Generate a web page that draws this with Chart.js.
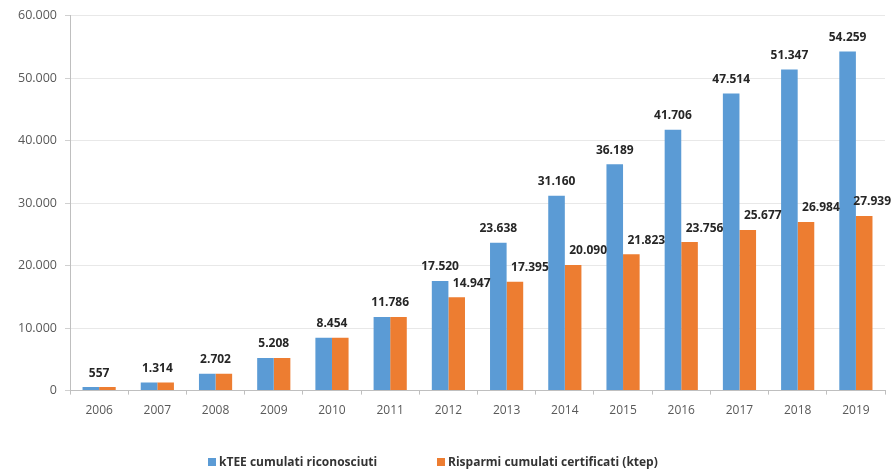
<!DOCTYPE html>
<html>
<head>
<meta charset="utf-8">
<script src="https://cdn.jsdelivr.net/npm/chart.js@4/dist/chart.umd.min.js"></script>
<style>
  html, body { margin: 0; padding: 0; background: #fff; }
  #wrap { position: relative; width: 892px; height: 475px; }
  #legend {
    position: absolute; left: 0; top: 453px; width: 892px; height: 18px;
    font: bold 12px 'Open Sans', sans-serif; color: #333;
  }
  .item { position: absolute; top: 0; line-height: 18px; white-space: nowrap; }
  .box { display: inline-block; width: 8px; height: 8px; margin-right: 3px; vertical-align: 0px; }
</style>
</head>
<body>
<div id="wrap">
  <canvas id="chart" width="892" height="475"></canvas>
  <div id="legend"></div>
</div>
<script>
// data
const years = ['2006','2007','2008','2009','2010','2011','2012','2013','2014','2015','2016','2017','2018','2019'];
const kteeCumulati = [557, 1314, 2702, 5208, 8454, 11786, 17520, 23638, 31160, 36189, 41706, 47514, 51347, 54259];
const risparmiCumulati = [557, 1314, 2702, 5208, 8454, 11786, 14947, 17395, 20090, 21823, 23756, 25677, 26984, 27939];
const seriesNames = ['kTEE cumulati riconosciuti', 'Risparmi cumulati certificati (ktep)'];
const yTicks = [0, 10000, 20000, 30000, 40000, 50000, 60000];

const BLUE = '#5b9bd5';
const ORANGE = '#ed7d31';

function fmt(v) {
  return String(v).replace(/\B(?=(\d{3})+(?!\d))/g, '.');
}

// value labels: one centered label when both values match, otherwise one per bar
const valueLabels = {
  id: 'valueLabels',
  afterDatasetsDraw(chart) {
    const ctx = chart.ctx;
    const m0 = chart.getDatasetMeta(0);
    const m1 = chart.getDatasetMeta(1);
    ctx.save();
    ctx.font = "bold 12px 'Open Sans', sans-serif";
    ctx.fillStyle = '#262626';
    ctx.textAlign = 'center';
    ctx.textBaseline = 'middle';
    years.forEach((y, i) => {
      const a = m0.data[i], b = m1.data[i];
      if (kteeCumulati[i] === risparmiCumulati[i]) {
        ctx.fillText(fmt(kteeCumulati[i]), (a.x + b.x) / 2, Math.min(a.y, b.y) - 14);
      } else {
        ctx.fillText(fmt(kteeCumulati[i]), a.x, a.y - 14);
        const txt = fmt(risparmiCumulati[i]);
        const half = ctx.measureText(txt).width / 2;
        const x = Math.min(b.x + 15, chart.width - 1 - half);
        ctx.fillText(txt, x, b.y - 14);
      }
    });
    ctx.restore();
  }
};

new Chart(document.getElementById('chart'), {
  type: 'bar',
  data: {
    labels: years,
    datasets: [
      { label: seriesNames[0], data: kteeCumulati, backgroundColor: BLUE },
      { label: seriesNames[1], data: risparmiCumulati, backgroundColor: ORANGE }
    ]
  },
  options: {
    responsive: false,
    animation: false,
    layout: { padding: { top: 8, right: 7, bottom: 48, left: 10 } },
    datasets: { bar: { categoryPercentage: 0.57, barPercentage: 1.0 } },
    plugins: {
      legend: { display: false },
      tooltip: { enabled: false }
    },
    scales: {
      x: {
        grid: { drawOnChartArea: false, drawTicks: true, tickLength: 4, color: '#bfbfbf' },
        border: { color: '#bfbfbf' },
        ticks: { color: '#595959', padding: 9, font: { family: "'Open Sans', sans-serif", size: 12 } }
      },
      y: {
        min: 0, max: 60000,
        afterBuildTicks: axis => { axis.ticks = yTicks.map(v => ({ value: v })); },
        grid: { color: '#e8e8e8', tickLength: 5, tickColor: '#d0d0d0' },
        border: { color: '#bfbfbf' },
        ticks: {
          color: '#595959', padding: 8,
          font: { family: "'Open Sans', sans-serif", size: 12.5 },
          callback: v => fmt(v)
        }
      }
    }
  },
  plugins: [valueLabels]
});

// legend
const legend = document.getElementById('legend');
const legendX = [208, 437];
[BLUE, ORANGE].forEach((c, i) => {
  const el = document.createElement('div');
  el.className = 'item';
  el.style.left = legendX[i] + 'px';
  el.innerHTML = '<span class="box" style="background:' + c + '"></span>' + seriesNames[i];
  legend.appendChild(el);
});
</script>
</body>
</html>
